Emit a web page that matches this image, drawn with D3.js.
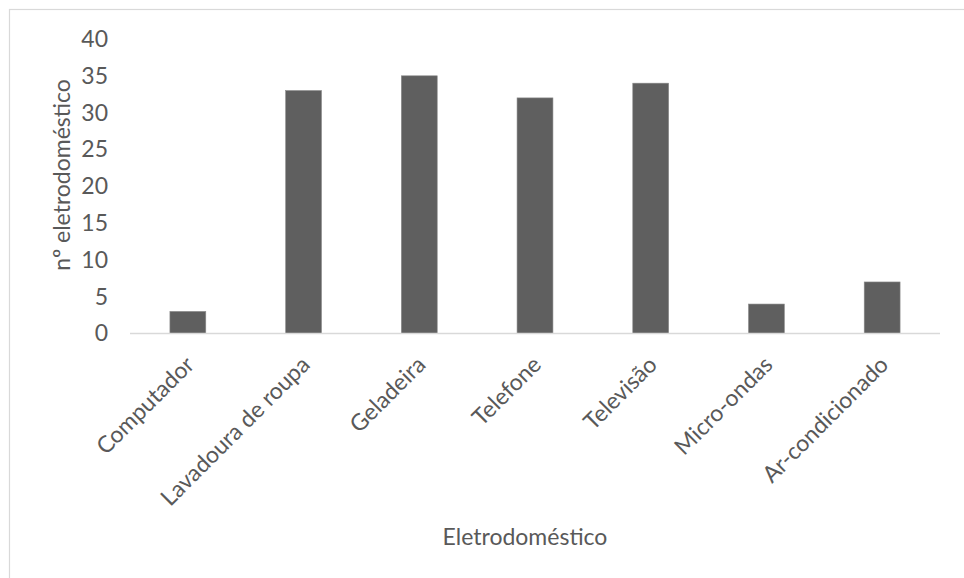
<!DOCTYPE html>
<html>
<head>
<meta charset="utf-8">
<script src="https://cdn.jsdelivr.net/npm/d3@7"></script>
<style>
  html, body { margin: 0; padding: 0; background: #fff; }
  svg { display: block; }
  text { font-family: Lato, "Open Sans", sans-serif; fill: #595959; }
</style>
</head>
<body>
<svg id="chart" width="964" height="578"></svg>
<script>
// Número de eletrodomésticos por tipo
const categories = ["Computador", "Lavadoura de roupa", "Geladeira", "Telefone", "Televisão", "Micro-ondas", "Ar-condicionado"];
const counts = [3, 33, 35, 32, 34, 4, 7];
const yTicks = [0, 5, 10, 15, 20, 25, 30, 35, 40];
const yTitle = "nº eletrodoméstico";
const xTitle = "Eletrodoméstico";

const svg = d3.select("#chart");
const W = 964, H = 578;

// chart frame
svg.append("rect")
  .attr("x", 9.5).attr("y", 9.5)
  .attr("width", W).attr("height", H)
  .attr("fill", "none").attr("stroke", "#d9d9d9").attr("stroke-width", 1.2);

const plot = { left: 130, right: 940, top: 39, bottom: 333.5 };

const x = d3.scaleBand()
  .domain(categories)
  .range([plot.left, plot.right])
  .paddingInner(0.69).paddingOuter(0.345);

const y = d3.scaleLinear()
  .domain([0, 40])
  .range([plot.bottom, plot.top]);

const fontSize = 23;
const fontFamily = "Lato, 'Open Sans', sans-serif";

// y axis labels (no line, no ticks)
const yAxis = svg.append("g")
  .attr("transform", "translate(108,0)")
  .call(d3.axisLeft(y).tickValues(yTicks).tickSize(0).tickPadding(0));
yAxis.select(".domain").remove();
yAxis.selectAll("text")
  .attr("font-size", fontSize)
  .attr("font-family", fontFamily)
  .attr("fill", "#595959")
  .attr("dy", "0.32em");

// bars
svg.append("g").selectAll("rect")
  .data(categories)
  .join("rect")
  .attr("x", d => x(d))
  .attr("width", x.bandwidth())
  .attr("y", (d, i) => y(counts[i]))
  .attr("height", (d, i) => y(0) - y(counts[i]))
  .attr("fill", "#5f5f5f")
  .attr("stroke", "#8a8a8a")
  .attr("stroke-width", 0.6);

// category axis
const xAxis = svg.append("g")
  .attr("transform", `translate(0,${plot.bottom})`)
  .call(d3.axisBottom(x).tickSize(0).tickPadding(0));
xAxis.select(".domain")
  .attr("stroke", "#d9d9d9").attr("stroke-width", 1.6)
  .attr("d", `M${plot.left},0H${plot.right}`);
xAxis.selectAll(".tick text")
  .attr("font-size", fontSize)
  .attr("font-family", fontFamily)
  .attr("fill", "#595959")
  .attr("text-anchor", "end")
  .attr("y", 0).attr("dy", "0.35em")
  .attr("transform", "translate(2,27) rotate(-45)");

// axis titles
svg.append("text")
  .attr("transform", "translate(70,175) rotate(-90)")
  .attr("text-anchor", "middle")
  .attr("font-size", fontSize)
  .text(yTitle);

svg.append("text")
  .attr("x", 525).attr("y", 545)
  .attr("text-anchor", "middle")
  .attr("font-size", fontSize)
  .text(xTitle);
</script>
</body>
</html>
